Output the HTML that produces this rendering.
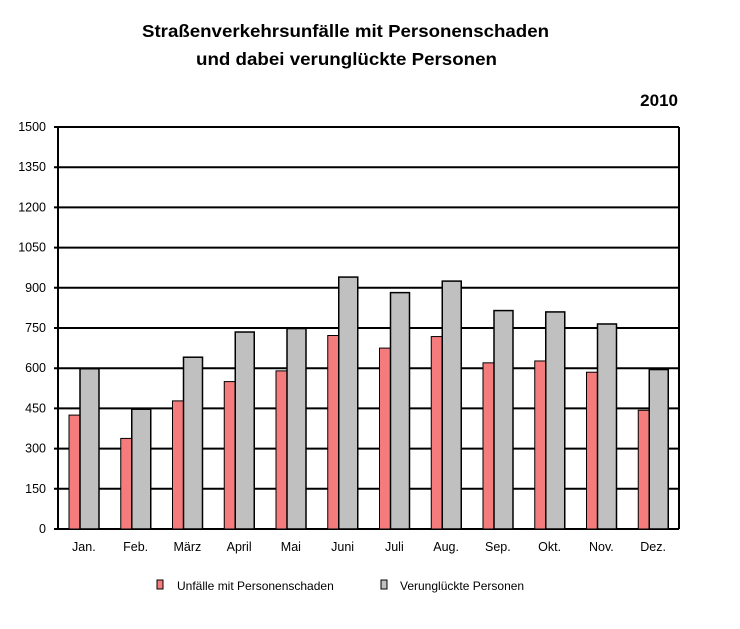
<!DOCTYPE html>
<html><head><meta charset="utf-8"><style>body{margin:0;background:#fff}svg{display:block}</style></head>
<body>
<svg width="740" height="629" xmlns="http://www.w3.org/2000/svg" font-family="Liberation Sans, Arial, sans-serif">
<rect width="740" height="629" fill="#fff"/>
<text x="142" y="37" font-size="17.5" font-weight="bold" textLength="407" lengthAdjust="spacingAndGlyphs">Straßenverkehrsunfälle mit Personenschaden</text>
<text x="196" y="65" font-size="17.5" font-weight="bold" textLength="301" lengthAdjust="spacingAndGlyphs">und dabei verunglückte Personen</text>
<text x="678" y="106" text-anchor="end" font-size="17" font-weight="bold">2010</text>
<g id="grid" stroke="#000" stroke-width="2"></g>
<g id="bars"></g>
<g id="labels" font-size="12.5"></g>
<rect x="157" y="580" width="6" height="9" fill="#f47c7c" stroke="#000" stroke-width="1"/>
<text x="177" y="590" font-size="12">Unfälle mit Personenschaden</text>
<rect x="381" y="580" width="6" height="9" fill="#c0c0c0" stroke="#000" stroke-width="1"/>
<text x="400" y="590" font-size="12">Verunglückte Personen</text>
<script>
const ns="http://www.w3.org/2000/svg";
function el(p,t,a,txt){const e=document.createElementNS(ns,t);for(const k in a)e.setAttribute(k,a[k]);if(txt!==undefined)e.textContent=txt;document.getElementById(p).appendChild(e);}
const L=58,R=679,T=127,B=529,s=(B-T)/1500;
for(let v=0;v<=1500;v+=150){const y=B-v*s;el('grid','line',{x1:L-4,x2:R,y1:y,y2:y});el('labels','text',{x:46,y:y+4,'text-anchor':'end'},v);}
el('grid','line',{x1:L,x2:L,y1:T,y2:B});el('grid','line',{x1:R,x2:R,y1:T,y2:B});
const m=["Jan.","Feb.","März","April","Mai","Juni","Juli","Aug.","Sep.","Okt.","Nov.","Dez."];
const a=[425,338,478,550,590,722,675,718,620,627,585,443];
const b=[598,447,641,735,748,940,882,925,815,810,765,595];
const g=(R-L)/12;
for(let i=0;i<12;i++){const x=L+i*g;
el('bars','rect',{x:x+11,y:B-a[i]*s,width:11,height:a[i]*s,fill:'#f47c7c',stroke:'#000','stroke-width':1});
el('bars','rect',{x:x+22,y:B-b[i]*s,width:19,height:b[i]*s,fill:'#c0c0c0',stroke:'#000','stroke-width':1.5});
el('labels','text',{x:x+g/2,y:551,'text-anchor':'middle'},m[i]);}
</script>
</svg>
</body></html>
